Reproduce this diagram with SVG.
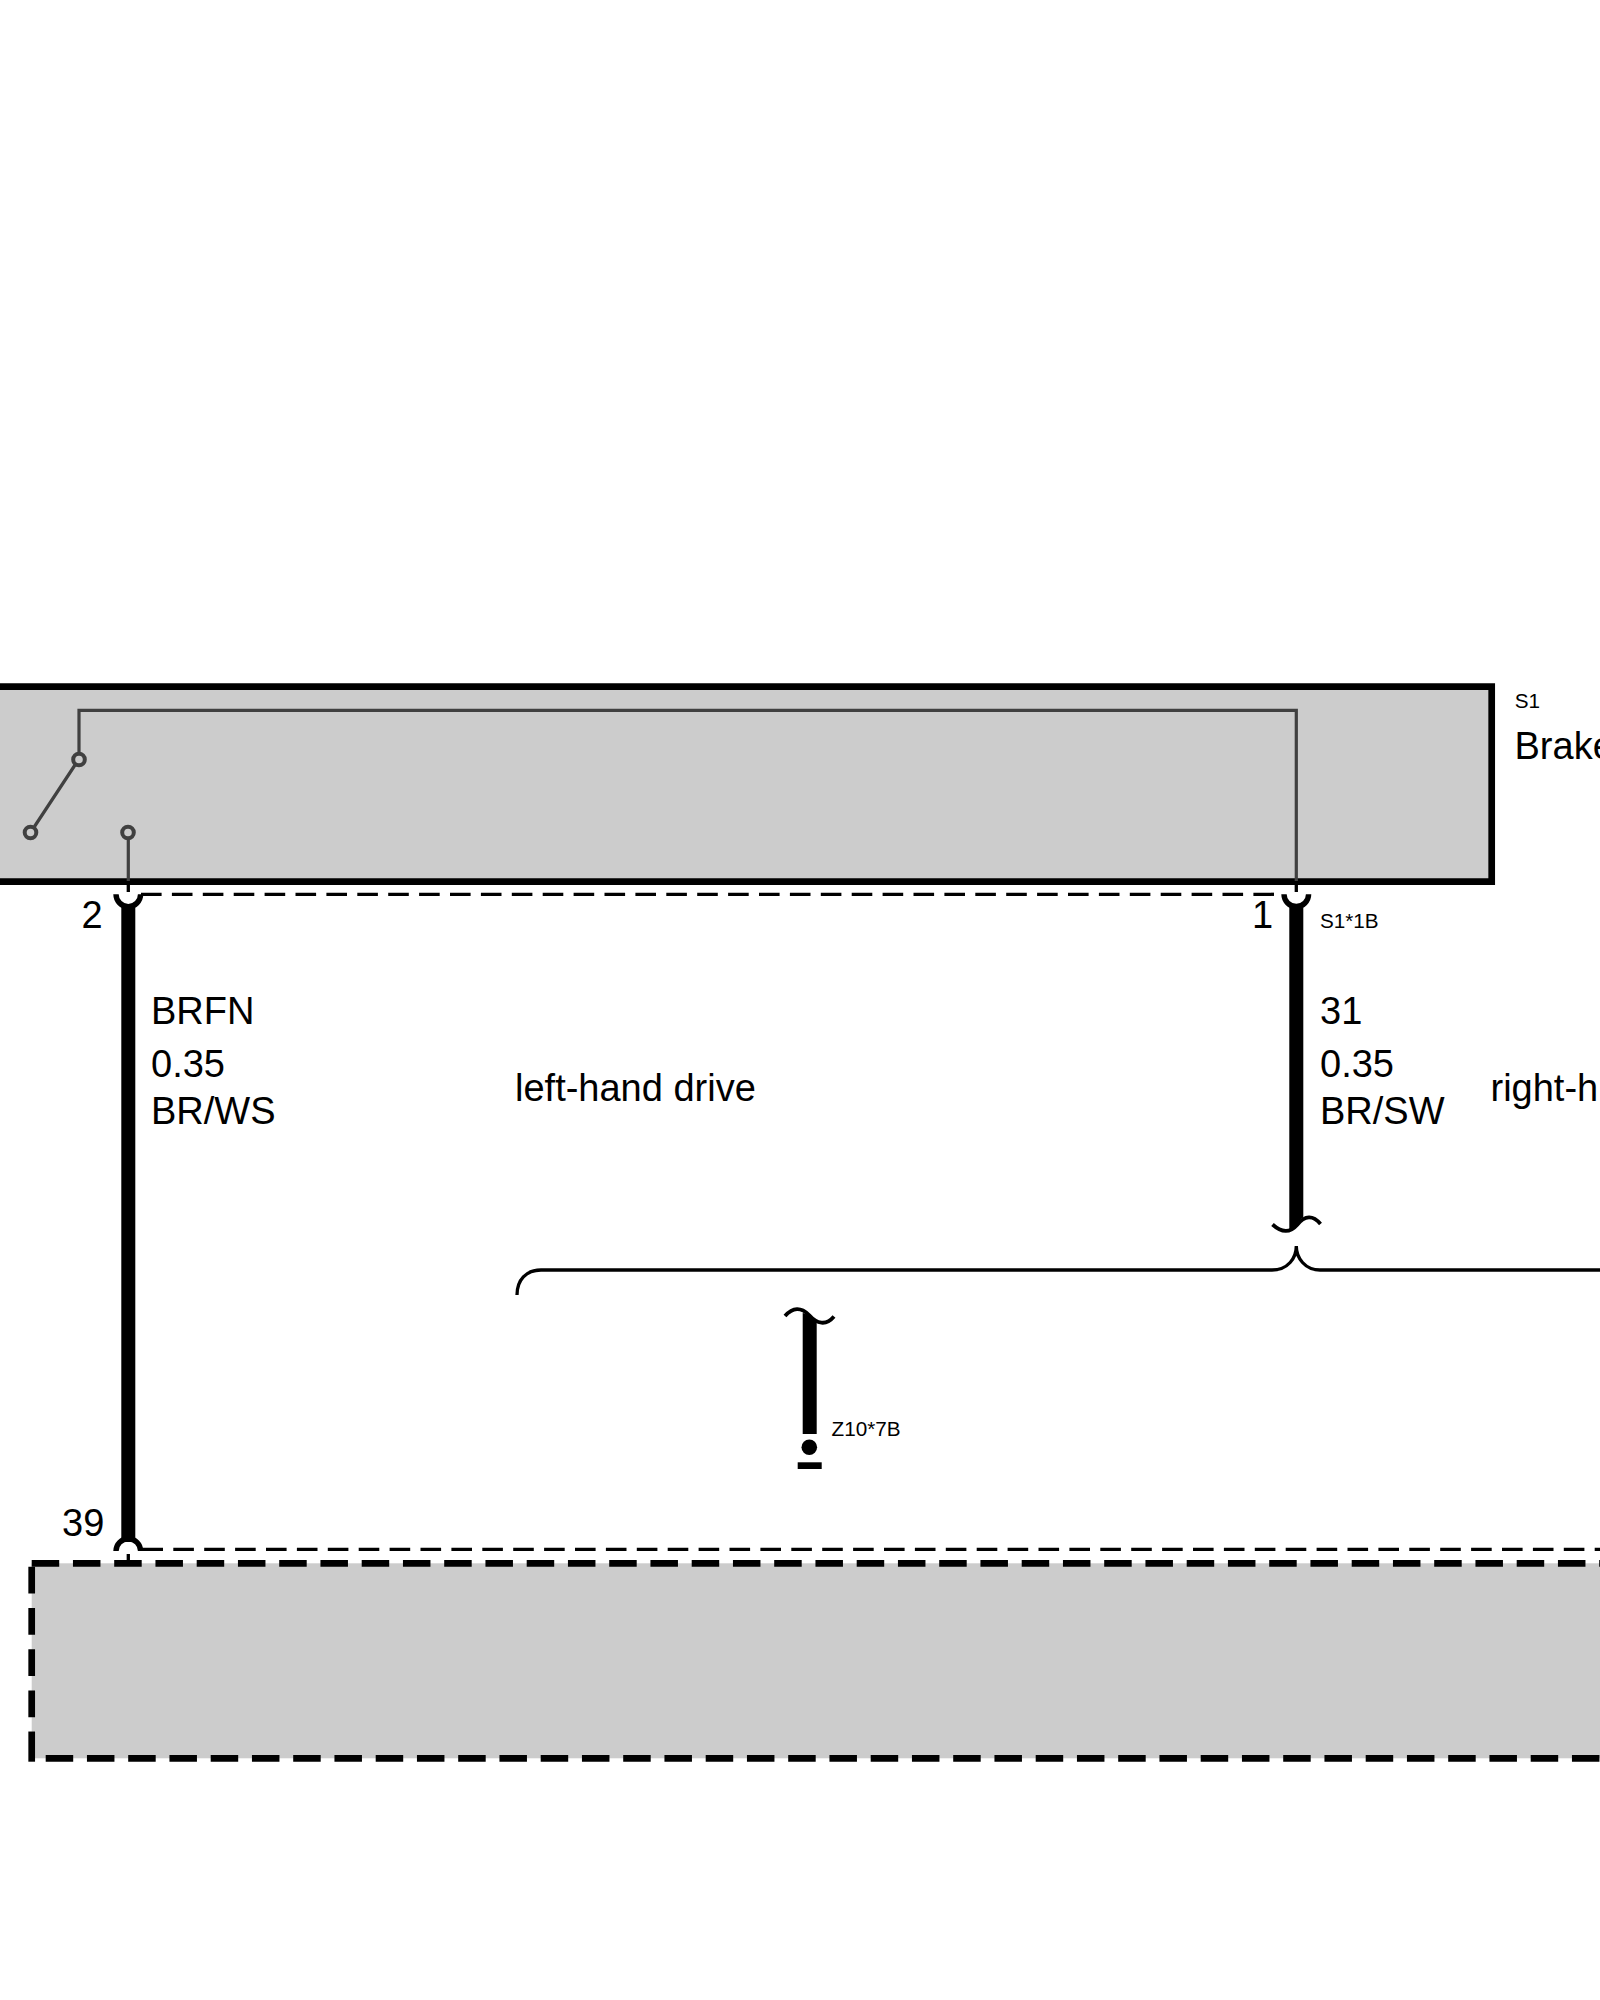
<svg xmlns="http://www.w3.org/2000/svg" width="1600" height="2000" viewBox="0 0 1600 2000">
<style>
text{font-family:"Liberation Sans",Arial,sans-serif;fill:#000}
.b{font-size:38px}.s{font-size:20.7px}
.inner{fill:none;stroke:#404040;stroke-width:3.2}
.dot{fill:#ccc;stroke:#404040;stroke-width:4}
.wire{fill:#000;stroke:none}
.cup{fill:none;stroke:#000;stroke-width:5.4}
.thin{fill:none;stroke:#000;stroke-width:3.3}
.tilde{fill:none;stroke:#000;stroke-width:3.8}
.dash{fill:none;stroke:#000;stroke-width:3.3;stroke-dasharray:20.6 10.3}
.bdash{fill:none;stroke:#000;stroke-width:6.7;stroke-dasharray:27.5 13.75}
.bdashv{fill:none;stroke:#000;stroke-width:6.7;stroke-dasharray:26.7 14.55}
</style>
<rect width="1600" height="2000" fill="#fff"/>
<g id="S1">
<path d="M-10 686.7H1491.7V881.7H-10Z" fill="#ccc" stroke="#000" stroke-width="6.7"/>
<path class="inner" d="M128.3 839V881M79 753V710.3H1296.3V881M75 765L34.5 826.5"/>
<circle class="dot" cx="79" cy="759.5" r="5.8"/>
<circle class="dot" cx="30.5" cy="832.5" r="5.8"/>
<circle class="dot" cx="128" cy="832.5" r="5.8"/>
<text class="s" x="1514.7" y="708.3">S1</text>
<text class="b" x="1514.5" y="759.3">Brake</text>
</g>
<g id="lower-module">
<rect x="31.7" y="1563.3" width="1600" height="195" fill="#ccc"/>
<path class="bdash" d="M31.7 1563.3H1600"/>
<path class="bdashv" d="M31.7 1566.7V1732"/>
<path fill="none" stroke="#000" stroke-width="6.7" d="M31.7 1731.7V1761.7"/>
<path class="bdash" d="M45.7 1758.3H1600"/>
</g>
<g id="connectors">
<path class="dash" d="M141 894.3H1276"/>
<path class="dash" d="M142.4 1549.3H1600"/>
<path class="thin" d="M128.3 881V892M1296.3 881V892M128.3 1554V1560"/>
<path class="wire" d="M121.3 905H135.3V1542H121.3Z"/>
<path class="cup" d="M116 894.3A12.3 12.3 0 0 0 140.6 894.3"/>
<path class="cup" d="M116 1551A12.3 12.3 0 0 1 140.6 1551"/>
<path class="wire" d="M1289.3 905H1303.3V1217.5C1298 1220 1295 1228 1289.3 1230Z"/>
<path class="cup" d="M1284 894.3A12.3 12.3 0 0 0 1308.6 894.3"/>
<path class="tilde" d="M1272.5 1224.5C1282 1233 1290 1233 1297 1225C1305 1215 1313 1215 1320.5 1224"/>
<path class="thin" d="M517 1295C517 1280 526 1270 541 1270H1272C1288 1270 1296.3 1258 1296.3 1246C1296.3 1258 1305 1270 1320 1270H1600"/>
<path class="wire" d="M802.7 1313C806 1313 812 1319 816.7 1322V1434H802.7Z"/>
<path class="tilde" d="M785 1316C793 1307 801 1307 809 1315C817 1324 826 1326 834 1316.5"/>
</g>
<g id="Z10">
<circle cx="809.3" cy="1447.3" r="7.8" fill="#000"/>
<rect x="797.7" y="1462.3" width="24" height="6.7" fill="#000"/>
<text class="s" x="831.5" y="1435.7">Z10*7B</text>
</g>
<g id="labels">
<text class="b" x="81.5" y="928.2">2</text>
<text class="b" x="1252" y="928.2">1</text>
<text class="b" x="62" y="1536">39</text>
<text class="s" x="1320" y="928.3">S1*1B</text>
<text class="b" x="151" y="1024.3">BRFN</text>
<text class="b" x="151" y="1076.5">0.35</text>
<text class="b" x="151" y="1124.3">BR/WS</text>
<text class="b" x="515" y="1100.5">left-hand drive</text>
<text class="b" x="1320" y="1024.3">31</text>
<text class="b" x="1320" y="1076.5">0.35</text>
<text class="b" x="1320" y="1124.3">BR/SW</text>
<text class="b" x="1490.5" y="1100.5">right-h</text>
</g>
</svg>
